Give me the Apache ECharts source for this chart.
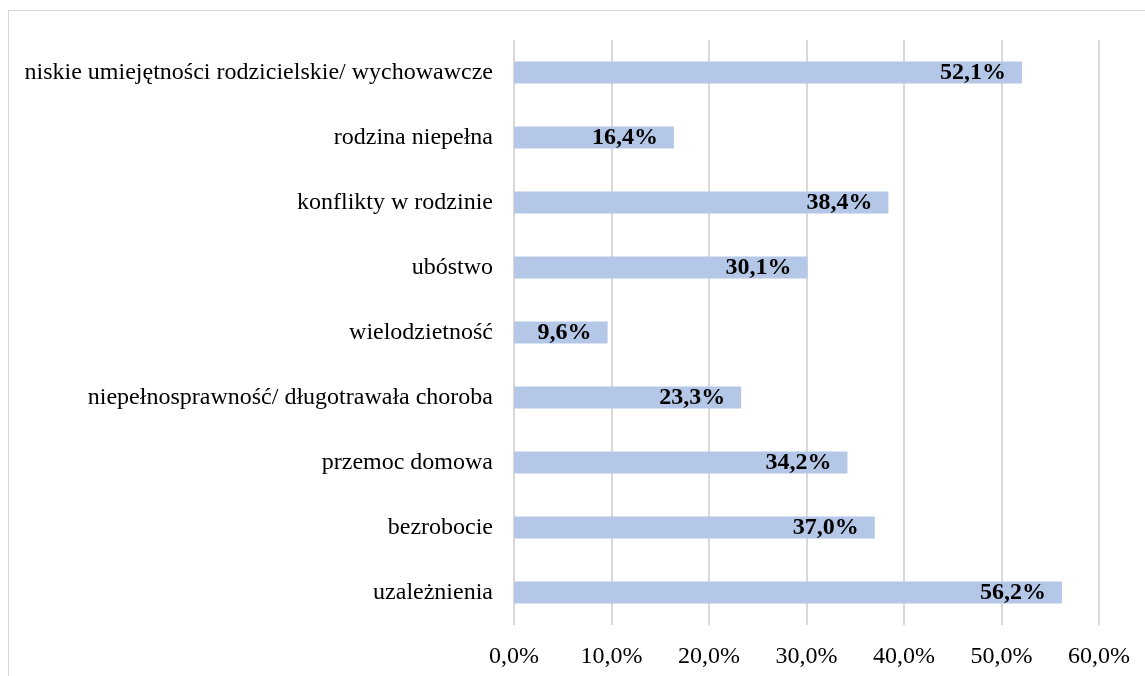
<!DOCTYPE html>
<html>
<head>
<meta charset="utf-8">
<script src="https://cdn.jsdelivr.net/npm/echarts@6/dist/echarts.min.js"></script>
<style>
  html, body { margin: 0; padding: 0; background: #fff; }
  #frame { position: absolute; left: 8px; top: 10px; width: 1200px; height: 700px; border: 1px solid #d9d9d9; }
  #main { position: absolute; left: 0; top: 0; width: 1145px; height: 676px; }
</style>
</head>
<body>
<div id="frame"></div>
<div id="main"></div>
<script>
var categories = [
  'niskie umiejętności rodzicielskie/ wychowawcze',
  'rodzina niepełna',
  'konflikty w rodzinie',
  'ubóstwo',
  'wielodzietność',
  'niepełnosprawność/ długotrawała choroba',
  'przemoc domowa',
  'bezrobocie',
  'uzależnienia'
];
var values = [52.1, 16.4, 38.4, 30.1, 9.6, 23.3, 34.2, 37.0, 56.2];

function pct(v) {
  return v.toFixed(1).replace('.', ',') + '%';
}

var serif = '"Times New Roman", "Liberation Serif", serif';

var myChart = echarts.init(document.getElementById('main'));
var option = {
  animation: false,
  textStyle: { fontFamily: serif },
  grid: { left: 514, right: 46, top: 40, bottom: 51 },
  xAxis: {
    type: 'value',
    min: 0,
    max: 60,
    interval: 10,
    axisLine: { show: false },
    axisTick: { show: false },
    splitLine: { lineStyle: { color: '#d9d9d9', width: 2 } },
    axisLabel: {
      margin: 20,
      fontSize: 24,
      color: '#000',
      fontFamily: serif,
      formatter: function (v) { return pct(v); }
    }
  },
  yAxis: {
    type: 'category',
    data: categories,
    inverse: true,
    axisLine: { show: false },
    axisTick: { show: false },
    axisLabel: {
      margin: 21,
      fontSize: 24,
      color: '#000',
      fontFamily: serif
    }
  },
  series: [{
    type: 'bar',
    data: values,
    barWidth: 22,
    itemStyle: { color: '#b4c7e7' },
    label: {
      show: true,
      position: 'insideRight',
      distance: 16,
      fontSize: 24,
      fontWeight: 'bold',
      color: '#000',
      fontFamily: serif,
      formatter: function (p) { return pct(p.value); }
    }
  }]
};
myChart.setOption(option);
</script>
</body>
</html>
